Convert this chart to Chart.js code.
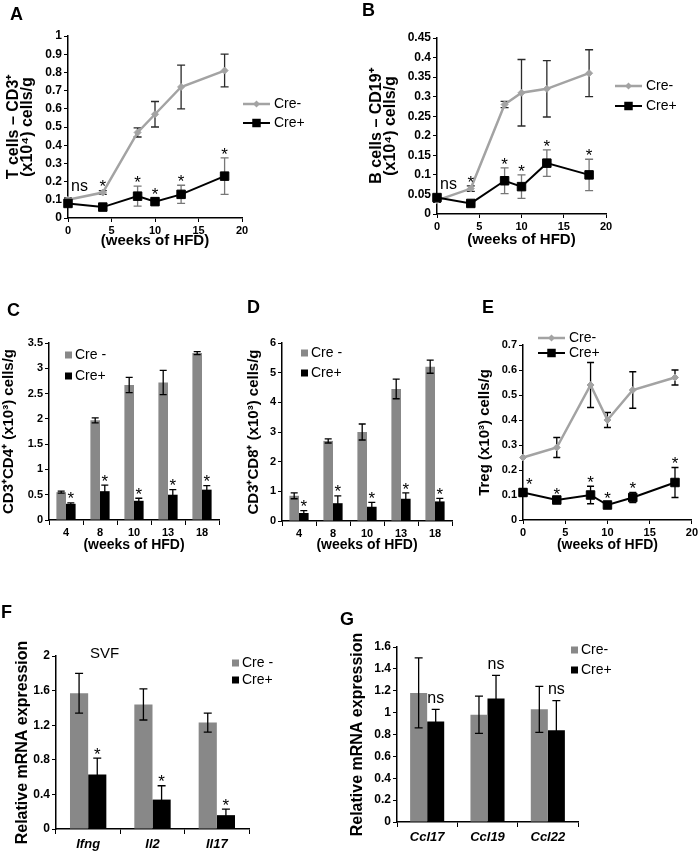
<!DOCTYPE html>
<html>
<head>
<meta charset="utf-8">
<title>HFD immune cell panels</title>
<script src="https://cdn.jsdelivr.net/npm/chart.js@4.4.1/dist/chart.umd.min.js"></script>
<style>
  body { margin: 0; background: #fff; }
  #fig { position: relative; width: 700px; height: 851px; overflow: hidden; font-family: "Liberation Sans", Arial, sans-serif; }
  #fig canvas { position: absolute; left: 0; top: 0; }
  .tag { position: absolute; font-size: 18px; line-height: 18px; font-weight: bold; color: #000; }
  .svf { position: absolute; font-size: 15px; line-height: 15px; color: #000; }
</style>
</head>
<body>
<div id="fig">
  <canvas id="chartA" width="700" height="851"></canvas>
  <canvas id="chartB" width="700" height="851"></canvas>
  <canvas id="chartC" width="700" height="851"></canvas>
  <canvas id="chartD" width="700" height="851"></canvas>
  <canvas id="chartE" width="700" height="851"></canvas>
  <canvas id="chartF" width="700" height="851"></canvas>
  <canvas id="chartG" width="700" height="851"></canvas>
  <div class="tag" style="left:10px;top:5px">A</div>
  <div class="tag" style="left:362px;top:1px">B</div>
  <div class="tag" style="left:7px;top:301px">C</div>
  <div class="tag" style="left:247px;top:298px">D</div>
  <div class="tag" style="left:482px;top:298px">E</div>
  <div class="tag" style="left:1px;top:603px">F</div>
  <div class="tag" style="left:340px;top:610px">G</div>
  <div class="svf" style="left:90px;top:645px">SVF</div>
</div>
<script>
// ---- data ----
const weeks = [0, 4, 8, 10, 13, 18];
const weekTicks = [0, 5, 10, 15, 20];
const barWeeks = ['4', '8', '10', '13', '18'];

// A: T cells
const tCellTicks = [0, 0.1, 0.2, 0.3, 0.4, 0.5, 0.6, 0.7, 0.8, 0.9, 1];
const tCellCreNeg = [0.10, 0.14, 0.47, 0.57, 0.72, 0.81];
const tCellCreNegErr = [0.01, 0.01, 0.025, 0.07, 0.12, 0.09];
const tCellCrePos = [0.08, 0.06, 0.12, 0.09, 0.13, 0.23];
const tCellCrePosErr = [0.01, 0.01, 0.055, 0.02, 0.05, 0.10];
const tCellSig = ['ns', '*', '*', '*', '*', '*'];

// B: B cells
const bCellTicks = [0, 0.05, 0.1, 0.15, 0.2, 0.25, 0.3, 0.35, 0.4, 0.45];
const bCellCreNeg = [0.035, 0.065, 0.28, 0.31, 0.32, 0.36];
const bCellCreNegErr = [0.005, 0.007, 0.008, 0.085, 0.072, 0.06];
const bCellCrePos = [0.042, 0.027, 0.085, 0.07, 0.13, 0.10];
const bCellCrePosErr = [0.004, 0.003, 0.033, 0.03, 0.034, 0.04];
const bCellSig = ['ns', '*', '*', '*', '*', '*'];

// C: CD4
const cd4Ticks = [0, 0.5, 1, 1.5, 2, 2.5, 3, 3.5];
const cd4CreNeg = [0.55, 1.97, 2.67, 2.72, 3.30];
const cd4CreNegErr = [0.02, 0.05, 0.15, 0.24, 0.03];
const cd4CrePos = [0.32, 0.57, 0.38, 0.50, 0.60];
const cd4CrePosErr = [0.02, 0.12, 0.05, 0.10, 0.08];
const cd4Sig = ['*', '*', '*', '*', '*'];

// D: CD8
const cd8Ticks = [0, 1, 2, 3, 4, 5, 6];
const cd8CreNeg = [0.85, 2.70, 3.00, 4.45, 5.20];
const cd8CreNegErr = [0.10, 0.07, 0.27, 0.33, 0.22];
const cd8CrePos = [0.27, 0.60, 0.48, 0.75, 0.66];
const cd8CrePosErr = [0.08, 0.25, 0.15, 0.20, 0.10];
const cd8Sig = ['*', '*', '*', '*', '*'];

// E: Treg
const tregTicks = [0, 0.1, 0.2, 0.3, 0.4, 0.5, 0.6, 0.7];
const tregCreNeg = [0.25, 0.29, 0.54, 0.40, 0.52, 0.57];
const tregCreNegErr = [0, 0.04, 0.09, 0.03, 0.073, 0.03];
const tregCrePos = [0.11, 0.08, 0.10, 0.06, 0.09, 0.15];
const tregCrePosErr = [0.015, 0.008, 0.035, 0.01, 0.02, 0.06];
const tregSig = ['*', '*', '*', '*', '*', '*'];

// F: SVF cytokines
const svfGenes = ['Ifng', 'Il2', 'Il17'];
const svfTicks = [0, 0.4, 0.8, 1.2, 1.6, 2];
const svfCreNeg = [1.57, 1.44, 1.23];
const svfCreNegErr = [0.23, 0.18, 0.11];
const svfCrePos = [0.63, 0.34, 0.16];
const svfCrePosErr = [0.19, 0.16, 0.07];
const svfSig = ['*', '*', '*'];

// G: chemokines
const cclGenes = ['Ccl17', 'Ccl19', 'Ccl22'];
const cclTicks = [0, 0.2, 0.4, 0.6, 0.8, 1, 1.2, 1.4, 1.6];
const cclCreNeg = [1.18, 0.98, 1.03];
const cclCreNegErr = [0.32, 0.17, 0.21];
const cclCrePos = [0.92, 1.13, 0.84];
const cclCrePosErr = [0.11, 0.21, 0.27];
const cclSig = ['ns', 'ns', 'ns'];

// ---- drawing ----
const FONT = '"Liberation Sans", Arial, sans-serif';
const GREY_LINE = '#a3a3a3';
const GREY_BAR = '#888888';

function fmt(v) { return String(+Number(v).toFixed(3)); }

function pad(area, yW, xH) {
  return { left: area[0] - yW, top: area[1], right: 700 - area[2], bottom: 851 - area[3] - xH };
}

function yAxis(o) {
  return {
    type: 'linear',
    min: o.yTicks[0],
    max: o.yTicks[o.yTicks.length - 1],
    afterBuildTicks: a => { a.ticks = o.yTicks.map(v => ({ value: v })); },
    afterFit: a => { a.width = o.yW; },
    ticks: { callback: fmt, color: '#000', padding: 2, font: { family: FONT, size: o.yTickSize, weight: 'bold' } },
    grid: { drawOnChartArea: false, tickLength: 4, color: '#000', tickColor: '#000' },
    border: { color: '#000', width: 1.5 },
    title: {
      display: true, text: o.yTitle, color: '#000', padding: { top: 0, bottom: 0 },
      font: { family: FONT, size: o.yTitleSize, weight: 'bold', lineHeight: o.yTitleLH || 1.2 }
    }
  };
}

function xTitle(o) {
  if (!o.xTitle) return { display: false };
  return {
    display: true, text: o.xTitle, color: '#000', padding: { top: 0, bottom: 0 },
    font: { family: FONT, size: o.xTitleSize, weight: 'bold', lineHeight: 1.2 }
  };
}

function drawErrors(chart, o) {
  const ctx = chart.ctx;
  const ys = chart.scales.y;
  ctx.save();
  chart.data.datasets.forEach((d, k) => {
    const meta = chart.getDatasetMeta(k);
    ctx.strokeStyle = d.errorColor;
    ctx.lineWidth = 1.3;
    meta.data.forEach((el, j) => {
      const e = d.errors[j];
      if (!e) return;
      const v = typeof d.data[j] === 'object' ? d.data[j].y : d.data[j];
      const x = el.x;
      const y1 = ys.getPixelForValue(v + e);
      const y2 = ys.getPixelForValue(v - e);
      ctx.beginPath();
      ctx.moveTo(x, y1); ctx.lineTo(x, y2);
      ctx.moveTo(x - o.cap, y1); ctx.lineTo(x + o.cap, y1);
      ctx.moveTo(x - o.cap, y2); ctx.lineTo(x + o.cap, y2);
      ctx.stroke();
    });
  });
  ctx.restore();
}

function extras(o) {
  return {
    id: 'extras',
    beforeDatasetsDraw(chart) {
      // line panels: whiskers sit under the markers
      if (o.errorsBelow) drawErrors(chart, o);
    },
    afterDatasetsDraw(chart) {
      if (!o.errorsBelow) drawErrors(chart, o);
      const ctx = chart.ctx;
      const ys = chart.scales.y;
      const sets = chart.data.datasets;
      const val = (d, j) => (typeof d.data[j] === 'object' ? d.data[j].y : d.data[j]);
      const topPx = (k, j) => ys.getPixelForValue(val(sets[k], j) + sets[k].errors[j]);
      ctx.save();

      // significance marks over the Cre+ series
      const metaPos = chart.getDatasetMeta(1);
      ctx.fillStyle = '#000';
      ctx.textAlign = 'center';
      ctx.textBaseline = 'alphabetic';
      o.sig.forEach((s, j) => {
        if (!s) return;
        let anchor = topPx(1, j);
        if (o.near) {
          const other = topPx(0, j);
          if (other < anchor && anchor - other < 30) anchor = other;
        }
        const star = s === '*';
        const fs = star ? 17 : 16;
        ctx.font = fs + 'px ' + FONT;
        const w = ctx.measureText(s).width;
        let x = metaPos.data[j].x;
        const minX = chart.chartArea.left + 3 + w / 2;
        if (x < minX) x = minX;
        const cy = anchor - (star ? 8 : 11);
        ctx.fillText(s, x, cy + (star ? 0.57 : 0.26) * fs);
      });

      // legend
      const lg = o.legend;
      ctx.font = lg.fs + 'px ' + FONT;
      ctx.textAlign = 'left';
      ctx.textBaseline = 'middle';
      sets.forEach((d, k) => {
        const y = lg.y + k * lg.gap;
        if (lg.kind === 'line') {
          ctx.strokeStyle = d.borderColor;
          ctx.lineWidth = d.borderWidth;
          ctx.beginPath(); ctx.moveTo(lg.x, y); ctx.lineTo(lg.x + 27, y); ctx.stroke();
          ctx.fillStyle = d.borderColor;
          const cx = lg.x + 13.5, r = d.pointRadius;
          ctx.beginPath();
          if (d.pointStyle === 'rect') {
            const h = r * Math.SQRT1_2;
            ctx.rect(cx - h, y - h, 2 * h, 2 * h);
          } else {
            ctx.moveTo(cx, y - r); ctx.lineTo(cx + r, y); ctx.lineTo(cx, y + r); ctx.lineTo(cx - r, y); ctx.closePath();
          }
          ctx.fill();
          ctx.fillStyle = '#000';
          ctx.fillText(d.label, lg.x + 31, y);
        } else {
          ctx.fillStyle = d.backgroundColor;
          ctx.fillRect(lg.x, y - 3.5, 7, 7);
          ctx.fillStyle = '#000';
          ctx.fillText(d.label, lg.x + 10, y);
        }
      });
      ctx.restore();
    }
  };
}

function lineChart(id, o) {
  o.errorsBelow = true;
  const pts = arr => weeks.map((w, i) => ({ x: w, y: arr[i] }));
  return new Chart(document.getElementById(id), {
    type: 'line',
    data: {
      datasets: [
        {
          label: o.labels[0], data: pts(o.neg), errors: o.negErr, errorColor: o.errColors[0],
          borderColor: GREY_LINE, backgroundColor: GREY_LINE, borderWidth: 2.5,
          pointStyle: 'rectRot', pointRadius: 3.5, pointBackgroundColor: GREY_LINE, pointBorderColor: GREY_LINE,
          pointBorderWidth: 1, order: 1, clip: false
        },
        {
          label: o.labels[1], data: pts(o.pos), errors: o.posErr, errorColor: o.errColors[1],
          borderColor: '#000', backgroundColor: '#000', borderWidth: 2,
          pointStyle: 'rect', pointRadius: 6, pointBackgroundColor: '#000', pointBorderColor: '#000',
          pointBorderWidth: 1, order: 0, clip: false
        }
      ]
    },
    options: {
      responsive: false, animation: false, devicePixelRatio: 1,
      layout: { padding: pad(o.area, o.yW, o.xH) },
      plugins: { legend: { display: false }, tooltip: { enabled: false } },
      scales: {
        x: {
          type: 'linear', min: weekTicks[0], max: weekTicks[weekTicks.length - 1],
          afterBuildTicks: a => { a.ticks = weekTicks.map(v => ({ value: v })); },
          afterFit: a => { a.height = o.xH; },
          ticks: { callback: fmt, color: '#000', padding: 2, font: { family: FONT, size: o.xTickSize, weight: 'bold' } },
          grid: { drawOnChartArea: false, tickLength: 4, color: '#000', tickColor: '#000' },
          border: { color: '#000', width: 1.5 },
          title: xTitle(o)
        },
        y: yAxis(o)
      }
    },
    plugins: [extras(o)]
  });
}

function barChart(id, o) {
  return new Chart(document.getElementById(id), {
    type: 'bar',
    data: {
      labels: o.cats,
      datasets: [
        { label: o.labels[0], data: o.neg, errors: o.negErr, errorColor: '#000', backgroundColor: GREY_BAR,
          categoryPercentage: 0.565, barPercentage: 1 },
        { label: o.labels[1], data: o.pos, errors: o.posErr, errorColor: '#000', backgroundColor: '#000',
          categoryPercentage: 0.565, barPercentage: 1 }
      ]
    },
    options: {
      responsive: false, animation: false, devicePixelRatio: 1,
      layout: { padding: pad(o.area, o.yW, o.xH) },
      plugins: { legend: { display: false }, tooltip: { enabled: false } },
      scales: {
        x: {
          type: 'category',
          afterFit: a => { a.height = o.xH; },
          ticks: { color: '#000', padding: o.xPad, font: { family: FONT, size: o.xTickSize, weight: 'bold', style: o.xItalic ? 'italic' : 'normal' } },
          grid: { drawOnChartArea: false, offset: true, tickLength: 5, color: '#000', tickColor: '#000' },
          border: { color: '#000', width: 1.5 },
          title: xTitle(o)
        },
        y: yAxis(o)
      }
    },
    plugins: [extras(o)]
  });
}

lineChart('chartA', {
  area: [68, 36, 242, 218], yW: 62, xH: 32,
  neg: tCellCreNeg, negErr: tCellCreNegErr, pos: tCellCrePos, posErr: tCellCrePosErr,
  sig: tCellSig, near: true, cap: 4, errColors: ['#2a2a2a', '#777777'],
  labels: ['Cre-', 'Cre+'],
  yTicks: tCellTicks, yTickSize: 12, xTickSize: 11,
  yTitle: ['T cells \u2013 CD3\u207A', '(x10\u2074) cells/g'], yTitleSize: 16, yTitleLH: 0.92,
  xTitle: '(weeks of HFD)', xTitleSize: 15,
  legend: { kind: 'line', x: 243, y: 104, gap: 19, fs: 14 }
});

lineChart('chartB', {
  area: [437, 38, 606, 214], yW: 68, xH: 35,
  neg: bCellCreNeg, negErr: bCellCreNegErr, pos: bCellCrePos, posErr: bCellCrePosErr,
  sig: bCellSig, near: true, cap: 4, errColors: ['#2a2a2a', '#777777'],
  labels: ['Cre-', 'Cre+'],
  yTicks: bCellTicks, yTickSize: 12, xTickSize: 11,
  yTitle: ['B cells \u2013 CD19\u207A', '(x10\u2074) cells/g'], yTitleSize: 16, yTitleLH: 0.92,
  xTitle: '(weeks of HFD)', xTitleSize: 15,
  legend: { kind: 'line', x: 615, y: 86, gap: 20, fs: 14 }
});

barChart('chartC', {
  area: [49, 343, 219, 520], yW: 49, xH: 34,
  cats: barWeeks, neg: cd4CreNeg, negErr: cd4CreNegErr, pos: cd4CrePos, posErr: cd4CrePosErr,
  sig: cd4Sig, cap: 3.5, labels: ['Cre -', 'Cre+'],
  yTicks: cd4Ticks, yTickSize: 11, xTickSize: 11, xPad: 1,
  yTitle: 'CD3\u207ACD4\u207A (x10\u00B3) cells/g', yTitleSize: 15,
  xTitle: '(weeks of HFD)', xTitleSize: 14,
  legend: { kind: 'box', x: 65, y: 355, gap: 21, fs: 14 }
});

barChart('chartD', {
  area: [282, 343, 452, 521], yW: 37, xH: 33,
  cats: barWeeks, neg: cd8CreNeg, negErr: cd8CreNegErr, pos: cd8CrePos, posErr: cd8CrePosErr,
  sig: cd8Sig, cap: 3.5, labels: ['Cre -', 'Cre+'],
  yTicks: cd8Ticks, yTickSize: 11, xTickSize: 11, xPad: 1,
  yTitle: 'CD3\u207ACD8\u207A (x10\u00B3) cells/g', yTitleSize: 15,
  xTitle: '(weeks of HFD)', xTitleSize: 14,
  legend: { kind: 'box', x: 301, y: 353, gap: 20, fs: 14 }
});

lineChart('chartE', {
  area: [523, 345, 693, 520], yW: 47, xH: 34,
  neg: tregCreNeg, negErr: tregCreNegErr, pos: tregCrePos, posErr: tregCrePosErr,
  sig: tregSig, near: true, cap: 3.5, errColors: ['#000000', '#000000'],
  labels: ['Cre-', 'Cre+'],
  yTicks: tregTicks, yTickSize: 11, xTickSize: 11,
  yTitle: 'Treg (x10\u00B3) cells/g', yTitleSize: 15,
  xTitle: '(weeks of HFD)', xTitleSize: 14,
  legend: { kind: 'line', x: 538, y: 338, gap: 15, fs: 14 }
});

barChart('chartF', {
  area: [56, 656, 249, 829], yW: 43, xH: 22,
  cats: svfGenes, neg: svfCreNeg, negErr: svfCreNegErr, pos: svfCrePos, posErr: svfCrePosErr,
  sig: svfSig, cap: 4, labels: ['Cre -', 'Cre+'],
  yTicks: svfTicks, yTickSize: 12, xTickSize: 13, xItalic: true, xPad: 3,
  yTitle: 'Relative mRNA expression', yTitleSize: 16,
  legend: { kind: 'box', x: 232, y: 663, gap: 17, fs: 14 }
});

barChart('chartG', {
  area: [397, 647, 578, 822], yW: 49, xH: 22,
  cats: cclGenes, neg: cclCreNeg, negErr: cclCreNegErr, pos: cclCrePos, posErr: cclCrePosErr,
  sig: cclSig, cap: 4, labels: ['Cre-', 'Cre+'],
  yTicks: cclTicks, yTickSize: 12, xTickSize: 13, xItalic: true, xPad: 3,
  yTitle: 'Relative mRNA expression', yTitleSize: 16,
  legend: { kind: 'box', x: 571, y: 650, gap: 20, fs: 14 }
});
</script>
</body>
</html>
